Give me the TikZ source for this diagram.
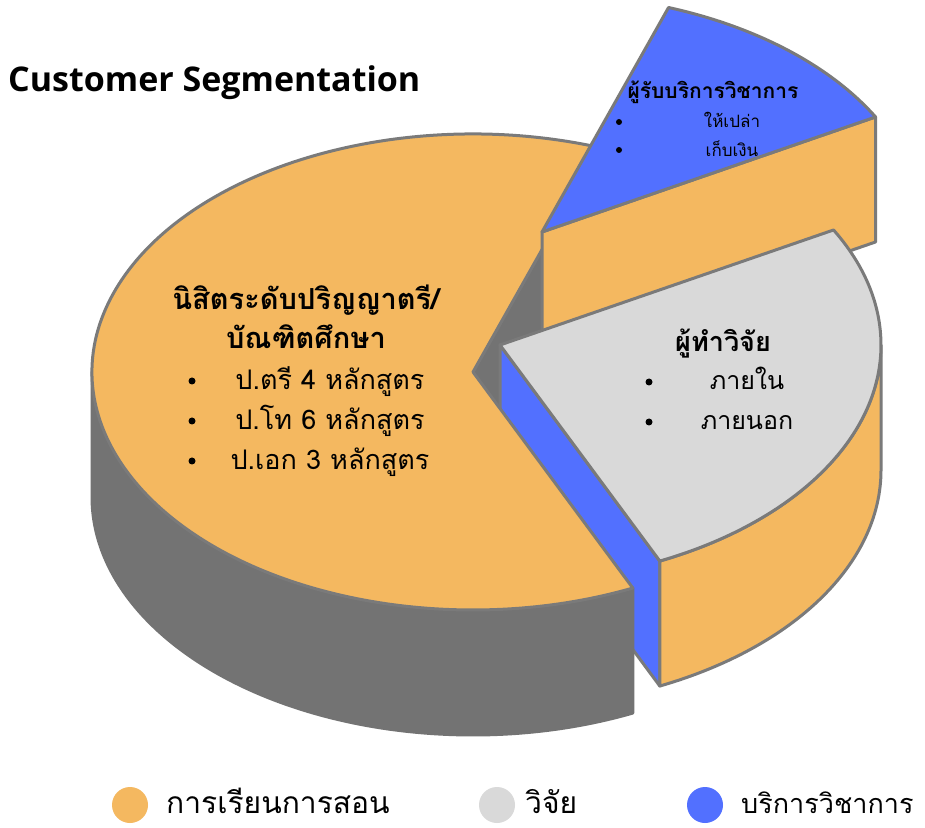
\documentclass[tikz,border=0pt]{standalone}
\usepackage{fontspec}
\setmainfont{Open Sans}
\newfontfamily\thai[Script=Thai]{Loma}
\usetikzlibrary{calc,shapes.geometric}
\definecolor{pieorange}{RGB}{244,184,96}
\definecolor{pieblue}{RGB}{82,112,255}
\definecolor{pielight}{RGB}{217,217,217}
\definecolor{piedark}{RGB}{115,115,115}
\definecolor{pieedge}{RGB}{122,122,122}
\begin{document}
\begin{tikzpicture}[x=1pt,y=1pt,
  face/.style={draw=pieedge, line width=3pt, line join=round},
  dot/.style={circle, fill=black, minimum size=7pt, inner sep=0pt},
  heading/.style={font=\thai\bfseries\fontsize{29}{32}\selectfont, anchor=base, inner sep=0pt},
  item/.style={font=\thai\fontsize{27}{30}\selectfont, anchor=base, inner sep=0pt},
  rhead/.style={font=\thai\bfseries\fontsize{27}{30}\selectfont, anchor=base, inner sep=0pt},
  ritem/.style={font=\thai\fontsize{25}{28}\selectfont, anchor=base, inner sep=0pt},
  smallhead/.style={font=\thai\bfseries\fontsize{21}{24}\selectfont, anchor=base, inner sep=0pt},
  smallitem/.style={font=\thai\fontsize{17}{20}\selectfont, anchor=base, inner sep=0pt},
  legtext/.style={font=\thai\fontsize{30}{34}\selectfont, anchor=base west, inner sep=0pt, text depth=0pt},
  legdot/.style={ellipse, minimum width=36pt, minimum height=36pt, inner sep=0pt}]
\useasboundingbox (0,0) rectangle (925,827);
\fill[white] (0,0) rectangle (925,827);
\coordinate (M) at (473,455);
\coordinate (B) at (542,595);
\coordinate (G) at (500,482);
% main slice: upper cut face
\path[face, fill=piedark] (M) -- ($(M)+(70.6:381 and 238)$) -- ++(0,-125) -- ($(M)+(0,-125)$) -- cycle;
% research slice: cut face (blue) and outer wall (orange)
\path[face, fill=pieblue] (G) -- ($(G)+(-65.2:381 and 238)$) -- ++(0,-125) -- ($(G)+(0,-125)$) -- cycle;
\path[face, fill=pieorange] ($(G)+(-65.2:381 and 238)$) arc[start angle=-65.2, end angle=0, x radius=381, y radius=238] -- ++(0,-125) arc[start angle=0, end angle=-65.2, x radius=381, y radius=238] -- cycle;
% main slice: outer wall and top face
\path[face, draw=piedark, fill=piedark] ($(M)+(180:381 and 238)$) arc[start angle=180, end angle=294.8, x radius=381, y radius=238] -- ++(0,-125) arc[start angle=294.8, end angle=180, x radius=381, y radius=238] -- cycle;
\path[face, fill=pieorange] (M) -- ($(M)+(70.6:381 and 238)$) arc[start angle=70.6, end angle=294.8, x radius=381, y radius=238] -- cycle;
% service slice
\path[face, fill=pieorange] (B) -- ($(B)+(28.9:381 and 238)$) -- ++(0,-125) -- ($(B)+(0,-125)$) -- cycle;
\path[face, fill=pieblue] (B) -- ($(B)+(28.9:381 and 238)$) arc[start angle=28.9, end angle=70.6, x radius=381, y radius=238] -- cycle;
% research slice: top face
\path[face, fill=pielight] (G) -- ($(G)+(-65.2:381 and 238)$) arc[start angle=-65.2, end angle=28.9, x radius=381, y radius=238] -- cycle;

% title
\node[anchor=base west, inner sep=0pt, font=\bfseries\fontsize{34}{40}\selectfont] (title) at (8,735) {Customer Segmentation};

% main slice text
\node[heading] (h1) at (306,517) {นิสิตระดับปริญญาตรี/};
\node[heading] (h2) at (306,478) {บัณฑิตศึกษา};
\node[dot] (d1) at (192,446) {};
\node[dot] (d2) at (192,406) {};
\node[dot] (d3) at (192,366) {};
\node[item] (i1) at (330,437) {ป.ตรี 4 หลักสูตร};
\node[item] (i2) at (330,397) {ป.โท 6 หลักสูตร};
\node[item] (i3) at (330,357) {ป.เอก 3 หลักสูตร};

% research slice text
\node[rhead] (rh) at (723,475) {ผู้ทำวิจัย};
\node[dot] (rd1) at (649,445) {};
\node[dot] (rd2) at (649,405) {};
\node[ritem] (ri1) at (747,437) {ภายใน};
\node[ritem] (ri2) at (747,397) {ภายนอก};

% service slice text
\node[smallhead] (sh) at (713,728) {ผู้รับบริการวิชาการ};
\node[dot, minimum size=6pt] (sd1) at (619,705) {};
\node[dot, minimum size=6pt] (sd2) at (619,677) {};
\node[smallitem] (si1) at (732,699) {ให้เปล่า};
\node[smallitem] (si2) at (732,670) {เก็บเงิน};

% legend
\node[legdot, fill=pieorange] (l1) at (130,22) {};
\node[legtext] (lt1) at (166,14) {การเรียนการสอน};
\node[legdot, fill=pielight] (l2) at (497,22) {};
\node[legtext] (lt2) at (525,14) {วิจัย};
\node[legdot, fill=pieblue] (l3) at (705,22) {};
\node[legtext, font=\thai\fontsize{27}{30}\selectfont] (lt3) at (741,14) {บริการวิชาการ};
\end{tikzpicture}
\end{document}
